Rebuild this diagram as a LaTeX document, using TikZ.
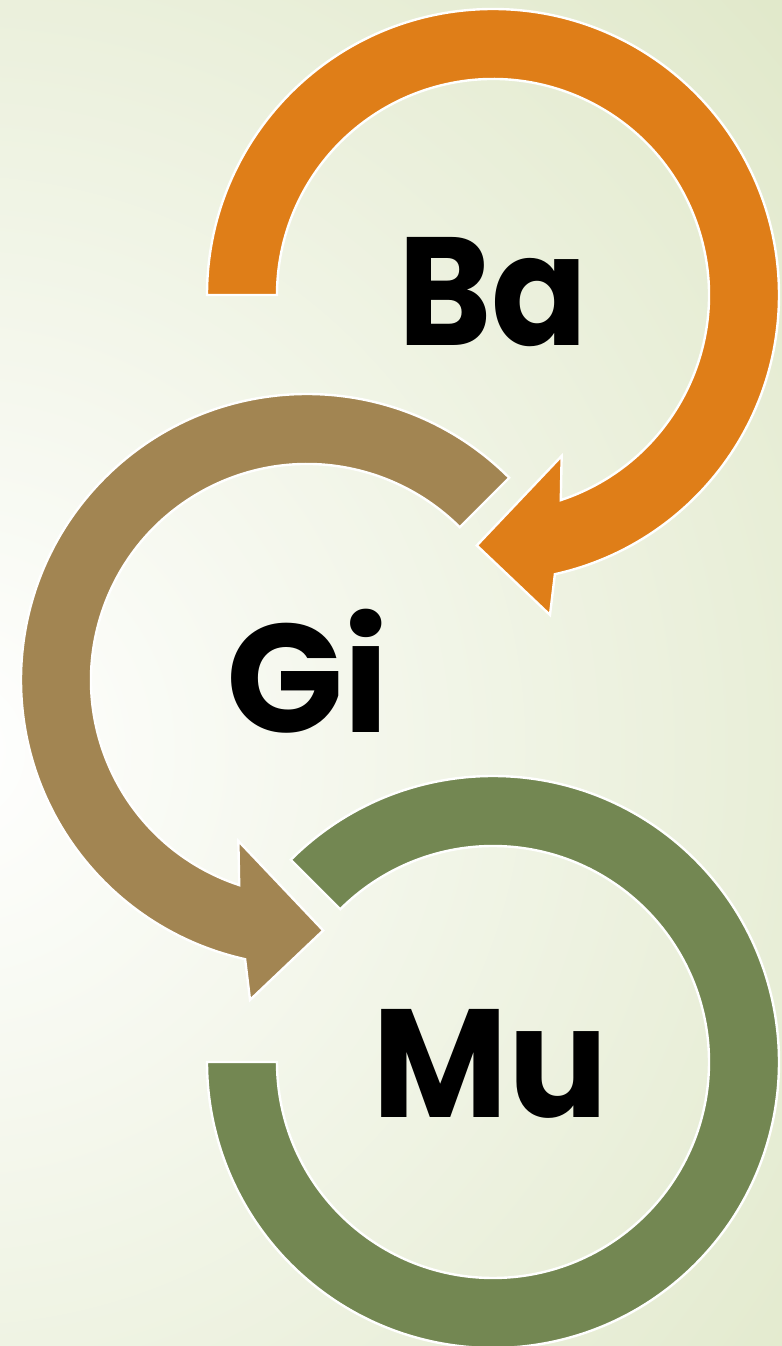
\documentclass[tikz,border=0pt]{standalone}
\usepackage{fontspec}
\newfontfamily\popfont{Poppins}
\definecolor{bgc}{HTML}{E0E8C9}
\definecolor{orangec}{HTML}{DF7E18}
\definecolor{brownc}{HTML}{A28552}
\definecolor{greenc}{HTML}{738752}
\tikzset{
  arrowshape/.style={draw=white, line width=1.2pt, line join=miter},
  lbl/.style={anchor=base, inner sep=0pt, font=\popfont\bfseries\fontsize{77}{82}\selectfont, text=black}
}
\begin{document}
\begin{tikzpicture}[x=0.5pt,y=0.5pt]
\useasboundingbox (0,0) rectangle (782,1346);
\begin{scope}
\clip (0,0) rectangle (782,1346);
\fill[bgc] (0,0) rectangle (782,1346);
\fill[inner color=white, outer color=bgc] (-50,596) circle (1150);
\end{scope}
% orange arrow
\begin{scope}[shift={(493,1051)}]
\fill[orangec, arrowshape] (180:286) arc[start angle=180, end angle=-77.5, radius=286]
  -- (-79.9:325) -- (-93.7:251) -- (-66.9:175) -- (-71.7:216)
  arc[start angle=-71.7, end angle=180, radius=216] -- cycle;
\end{scope}
% brown arrow
\begin{scope}[shift={(307,666)}]
\fill[brownc, arrowshape] (45:286) arc[start angle=45, end angle=257.5, radius=286]
  -- (259.9:325) -- (273.7:251) -- (246.9:175) -- (251.7:216)
  arc[start angle=251.7, end angle=45, radius=216] -- cycle;
\end{scope}
% green ring
\begin{scope}[shift={(493,284)}]
\fill[greenc, arrowshape] (135:286) arc[start angle=135, end angle=-180, radius=286]
  -- (180:216) arc[start angle=-180, end angle=135, radius=216] -- cycle;
\end{scope}
\node[lbl, xscale=0.92] (ba) at (493,1000) {Ba};
\node[lbl, xscale=1.0] (gi) at (308,613) {Gi};
\node[lbl, xscale=0.96] (mu) at (490,228) {Mu};
\end{tikzpicture}
\end{document}
